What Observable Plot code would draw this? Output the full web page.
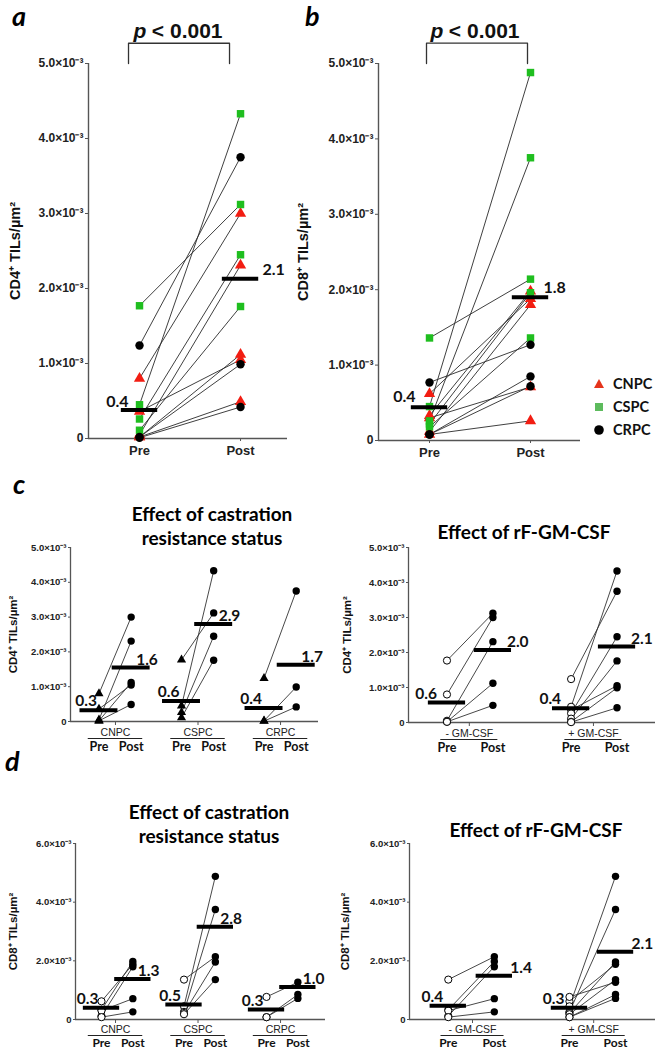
<!DOCTYPE html>
<html><head><meta charset="utf-8">
<script src="https://cdn.jsdelivr.net/npm/d3@7"></script>
<script src="https://cdn.jsdelivr.net/npm/@observablehq/plot@0.6"></script>
<style>
body{margin:0;background:#fff;}
#fig{position:relative;width:660px;height:1050px;overflow:hidden;background:#fff;font-family:"Liberation Sans",Arial,sans-serif;}
.lt{position:absolute;font-family:Lato,sans-serif;font-weight:bold;color:#000;white-space:nowrap;}
.letter{font-style:italic;font-size:27px;line-height:30px;}
.title{font-size:19px;line-height:24px;text-align:center;}
.leg{position:absolute;font-family:Lato,sans-serif;font-weight:bold;font-size:14.5px;color:#111;}
.leg div{height:23px;display:flex;align-items:center;}
.leg svg{margin-right:9px;}
</style></head><body><div id="fig"></div>
<script>
// ---------- data (values ×10⁻³ cells/µm²) ----------
const groups   = ["CNPC","CSPC","CRPC"];
const gmGroups = ["- GM-CSF","+ GM-CSF"];
const gmKeys   = ["-","+"];
const phase    = ["Pre","Post"];

const cd4Type = ["CNPC","CNPC","CNPC","CNPC","CNPC","CSPC","CSPC","CSPC","CSPC","CRPC","CRPC","CRPC"];
const cd4Pre  = [0.80,0.36,0.05,0.02,0.02,1.77,0.45,0.26,0.11,1.24,0.02,0.01];
const cd4Post = [3.00,1.05,2.31,1.12,0.49,3.12,4.33,2.45,1.76,3.75,0.99,0.42];
const cd4GM   = ["-","+","-","-","-","-","+","+","+","+","+","+"];

const cd8Type = ["CNPC","CNPC","CNPC","CNPC","CNPC","CSPC","CSPC","CSPC","CSPC","CSPC","CRPC","CRPC","CRPC"];
const cd8Pre  = [0.62,0.33,0.12,0.30,0.08,1.36,0.45,0.26,0.22,0.18,0.77,0.08,0.08];
const cd8Post = [1.88,1.98,1.80,0.71,0.26,2.14,4.88,3.75,1.96,1.36,1.27,0.85,0.72];
const cd8GM   = ["+","-","-","-","-","-","+","+","+","+","+","+","+"];

// mean bars as drawn, and their printed labels
const meanA = [0.38, 2.13],  meanLabelA = ["0.4","2.1"];
const meanB = [0.44, 1.90],  meanLabelB = ["0.4","1.8"];
const meanCD4Type = [[0.32,1.55],[0.59,2.80],[0.39,1.63]];
const meanCD4TypeLabel = [["0.3","1.6"],["0.6","2.9"],["0.4","1.7"]];
const meanCD4GM = [[0.57,2.07],[0.41,2.17]];
const meanCD4GMLabel = [["0.6","2.0"],["0.4","2.1"]];
const meanCD8Type = [[0.40,1.38],[0.51,3.16],[0.34,1.11]];
const meanCD8TypeLabel = [["0.3","1.3"],["0.5","2.8"],["0.3","1.0"]];
const meanCD8GM = [[0.47,1.49],[0.40,2.31]];
const meanCD8GMLabel = [["0.4","1.4"],["0.3","2.1"]];

const yTicks5 = [0,1,2,3,4,5];
const yTicks6 = [0,2,4,6];
const pText = ["p", "< 0.001"];

// ---------- helpers ----------
const fig = document.getElementById("fig");
function place(el, left, top){ el.style.position="absolute"; el.style.left=left+"px"; el.style.top=top+"px"; fig.appendChild(el); return el; }
const fmtSci = d => d === 0 ? "0" : d.toFixed(1) + "×10⁻³";
const SANS = "'Liberation Sans', Arial, sans-serif";
const LATO = "Lato, sans-serif";
const AX = "#555";

function pairPanel(o){
  const rows = o.type.map((t,i)=>({t, xa:0, xb:1, pre:o.pre[i], post:o.post[i]}));
  const pts = rows.flatMap(r=>[{x:0,y:r.pre,t:r.t},{x:1,y:r.post,t:r.t}]);
  const meanRows = o.means.map((v,i)=>({x:i, v, label:o.meanLabels[i]}));
  const br = [{x:0,y:5.0},{x:0,y:5.27},{x:1,y:5.27},{x:1,y:5.0}];
  return Plot.plot({
    width:o.width, height:o.height, marginLeft:o.mL, marginRight:o.mR, marginTop:o.mT, marginBottom:o.mB,
    x:{domain:o.xDomain, axis:null}, y:{domain:[0,5], axis:null},
    symbol:{domain:groups, range:["triangle","square","circle"]},
    color:{domain:groups, range:["#f21d12","#1fbe1f","#000000"]},
    style:{fontFamily:SANS, color:"#222", background:"transparent", overflow:"visible"},
    marks:[
      Plot.ruleX([o.xDomain[0]], {y1:0, y2:5, stroke:AX, strokeWidth:1.4}),
      Plot.ruleY([0], {x1:o.xDomain[0], x2:o.xDomain[1], stroke:AX, strokeWidth:1.4}),
      Plot.axisY({ticks:yTicks5, tickFormat:fmtSci, tickSize:3, tickPadding:2, fontSize:12, fontWeight:"bold", stroke:AX, label:null}),
      Plot.axisX({ticks:[0,1], tickFormat:i=>phase[i], tickSize:3, tickPadding:4, fontSize:13, fontWeight:"bold", stroke:AX, label:null}),
      Plot.text([o.yLabel], {frameAnchor:"left", rotate:-90, textAnchor:"middle", lineAnchor:"middle", dx:o.yLabelDx, fontSize:14.5, fontWeight:"bold", fill:"#111"}),
      Plot.line(br, {x:"x", y:"y", stroke:"#333", strokeWidth:1.3, dx:o.brDx}),
      Plot.text([pText[0]], {x:()=>0.5, y:()=>5.34, dx:o.pDx, textAnchor:"start", lineAnchor:"bottom", fontSize:21, fontWeight:"bold", fontStyle:"italic", fill:"#111"}),
      Plot.text([pText[1]], {x:()=>0.5, y:()=>5.34, dx:o.pEndDx, textAnchor:"end", lineAnchor:"bottom", fontSize:21, fontWeight:"bold", fill:"#111"}),
      Plot.link(rows, {x1:"xa", y1:"pre", x2:"xb", y2:"post", stroke:"#2a2a2a", strokeWidth:0.9}),
      Plot.dot(pts, {x:"x", y:"y", symbol:"t", fill:"t", r:4.2}),
      Plot.ruleY(meanRows, {y:"v", x1:d=>d.x-0.18, x2:d=>d.x+0.18, stroke:"#000", strokeWidth:4}),
      Plot.text(meanRows.slice(0,1), {x:"x", y:"v", text:"label", textAnchor:"end", lineAnchor:"bottom", dx:o.preLblDx, dy:o.preLblDy, fontFamily:LATO, fontWeight:"bold", fontSize:16, fill:"#111"}),
      Plot.text(meanRows.slice(1), {x:"x", y:"v", text:"label", textAnchor:"start", lineAnchor:"bottom", dx:o.postLblDx, dy:o.postLblDy, fontFamily:LATO, fontWeight:"bold", fontSize:16, fill:"#111"})
    ]
  });
}

function groupPanel(o){
  const rows = o.gi.map((g,i)=>({g, xa:g+o.preOff, xb:g+o.postOff, pre:o.pre[i], post:o.post[i]}));
  const prePts = rows.map(r=>({x:r.xa, y:r.pre}));
  const postPts = rows.map(r=>({x:r.xb, y:r.post}));
  const meanPre = o.means.map((m,g)=>({x:g+o.preOff, v:m[0], label:o.labels[g][0]}));
  const meanPost = o.means.map((m,g)=>({x:g+o.postOff, v:m[1], label:o.labels[g][1]}));
  const nameRows = o.names.map((n,g)=>({g, n}));
  const ppRows = o.names.flatMap((n,g)=>[{x:g+o.preOff, t:phase[0]},{x:g+o.postOff, t:phase[1]}]);
  const preDot = o.preMark === "triangle"
    ? Plot.dot(prePts, {x:"x", y:"y", symbol:"triangle", fill:"#000", r:3.4})
    : Plot.dot(prePts, {x:"x", y:"y", symbol:"circle", fill:"#fff", stroke:"#000", strokeWidth:1, r:3.6});
  const labelStyle = {fontFamily:LATO, fontWeight:"bold", fontSize:15.5, fill:"#111", lineAnchor:"bottom"};
  return Plot.plot({
    width:o.width, height:o.height, marginLeft:o.mL, marginRight:o.mR, marginTop:o.mT, marginBottom:o.mB,
    x:{domain:o.xDomain, axis:null}, y:{domain:[0,o.yMax], axis:null},
    style:{fontFamily:SANS, color:"#222", background:"transparent", overflow:"visible"},
    marks:[
      Plot.ruleX([o.xDomain[0]], {y1:0, y2:o.yMax, stroke:AX, strokeWidth:1.3}),
      Plot.ruleY([0], {x1:o.xDomain[0], x2:o.xDomain[1], stroke:AX, strokeWidth:1.3}),
      Plot.axisY({ticks:o.yTicks, tickFormat:fmtSci, tickSize:2, tickPadding:2, fontSize:9.5, fontWeight:"bold", stroke:AX, label:null}),
      Plot.axisX({ticks:o.names.map((n,g)=>g), tickFormat:()=>"", tickSize:4, stroke:AX, label:null}),
      Plot.text([o.yLabel], {frameAnchor:"left", rotate:-90, textAnchor:"middle", lineAnchor:"middle", dx:o.yLabelDx, fontSize:11.5, fontWeight:"bold", fill:"#111"}),
      Plot.text(nameRows, {x:"g", y:()=>0, text:"n", dy:o.nameDy, lineAnchor:"bottom", fontSize:10.5, fill:"#222"}),
      Plot.ruleY(nameRows, {y:()=>0, x1:d=>d.g-o.ulHalf, x2:d=>d.g+o.ulHalf, dy:o.ulDy, stroke:"#222", strokeWidth:1.2}),
      Plot.text(ppRows, {x:"x", y:()=>0, text:"t", dy:o.ppDy, lineAnchor:"bottom", fontFamily:LATO, fontWeight:"bold", fontSize:o.ppSize, fill:"#111"}),
      Plot.link(rows, {x1:"xa", y1:"pre", x2:"xb", y2:"post", stroke:"#333", strokeWidth:0.9}),
      preDot,
      Plot.dot(postPts, {x:"x", y:"y", fill:"#000", r:3.7}),
      Plot.ruleY(meanPre.concat(meanPost), {y:"v", x1:d=>d.x-o.barHalf, x2:d=>d.x+o.barHalf, stroke:"#000", strokeWidth:4}),
      Plot.text(meanPre, {x:"x", y:"v", text:"label", textAnchor:"end", dx:o.preLblDx, dy:-4, ...labelStyle}),
      Plot.text(meanPost, {x:"x", y:"v", text:"label", textAnchor:"start", dx:o.postLblDx, dy:-3, ...labelStyle})
    ]
  });
}

// ---------- panel a ----------
place(pairPanel({type:cd4Type, pre:cd4Pre, post:cd4Post, means:meanA, meanLabels:meanLabelA,
  yLabel:"CD4⁺ TILs/µm²", width:330, height:480, mL:88, mR:43, mT:63, mB:42, xDomain:[-0.505,1.465],
  yLabelDx:-73, brDx:-11, pDx:-56.5, pEndDx:32.5, preLblDx:-11, preLblDy:-3, postLblDx:22, postLblDy:-4}), 0, 0);

// ---------- panel b ----------
place(pairPanel({type:cd8Type, pre:cd8Pre, post:cd8Post, means:meanB, meanLabels:meanLabelB,
  yLabel:"CD8⁺ TILs/µm²", width:310, height:480, mL:98, mR:10, mT:63, mB:40, xDomain:[-0.505,1.495],
  yLabelDx:-75, brDx:-3, pDx:-49.5, pEndDx:39.5, preLblDx:-14, preLblDy:-5, postLblDx:13, postLblDy:-4}), 280, 0);

// ---------- panel c ----------
place(groupPanel({gi:cd4Type.map(t=>groups.indexOf(t)), pre:cd4Pre, post:cd4Post, names:groups,
  means:meanCD4Type, labels:meanCD4TypeLabel, preMark:"triangle", yMax:5, yTicks:yTicks5, yLabel:"CD4⁺ TILs/µm²",
  width:330, height:220, mL:70, mR:12, mT:7, mB:39, xDomain:[-0.545,2.46], yLabelDx:-57,
  preOff:-0.2, postOff:0.19, barHalf:0.23, ulHalf:0.33, nameDy:14, ulDy:17, ppDy:29, ppSize:12.5, preLblDx:-2, postLblDx:5}), 0, 540);

place(groupPanel({gi:cd4GM.map(k=>gmKeys.indexOf(k)), pre:cd4Pre, post:cd4Post, names:gmGroups,
  means:meanCD4GM, labels:meanCD4GMLabel, preMark:"open", yMax:5, yTicks:yTicks5, yLabel:"CD4⁺ TILs/µm²",
  width:330, height:220, mL:78, mR:5, mT:7, mB:38, xDomain:[-0.49,1.5], yLabelDx:-61,
  preOff:-0.18, postOff:0.19, barHalf:0.15, ulHalf:0.23, nameDy:14, ulDy:17, ppDy:29, ppSize:12.5, preLblDx:-10, postLblDx:14}), 330, 540);

// ---------- panel d ----------
place(groupPanel({gi:cd8Type.map(t=>groups.indexOf(t)), pre:cd8Pre, post:cd8Post, names:groups,
  means:meanCD8Type, labels:meanCD8TypeLabel, preMark:"open", yMax:6, yTicks:yTicks6, yLabel:"CD8⁺ TILs/µm²",
  width:330, height:215, mL:75, mR:5, mT:8, mB:31, xDomain:[-0.485,2.545], yLabelDx:-62,
  preOff:-0.17, postOff:0.21, barHalf:0.22, ulHalf:0.33, nameDy:13, ulDy:16, ppDy:27, ppSize:12, preLblDx:-3, postLblDx:5}), 0, 835);

place(groupPanel({gi:cd8GM.map(k=>gmKeys.indexOf(k)), pre:cd8Pre, post:cd8Post, names:gmGroups,
  means:meanCD8GM, labels:meanCD8GMLabel, preMark:"open", yMax:6, yTicks:yTicks6, yLabel:"CD8⁺ TILs/µm²",
  width:330, height:215, mL:79, mR:5, mT:8, mB:31, xDomain:[-0.52,1.51], yLabelDx:-64,
  preOff:-0.2, postOff:0.18, barHalf:0.15, ulHalf:0.26, nameDy:13, ulDy:16, ppDy:27, ppSize:12, preLblDx:-5, postLblDx:16}), 330, 835);

// ---------- letters & titles ----------
function txt(cls, html, left, top, width){ const d=document.createElement("div"); d.className="lt "+cls; d.innerHTML=html; if(width){d.style.width=width+"px";} return place(d,left,top); }
txt("letter","a",12,1); txt("letter","b",305,1); txt("letter","c",13,469); txt("letter","d",5,746);
txt("title","Effect of castration<br>resistance status",112,502,200);
txt("title","Effect of rF-GM-CSF",424,520,200);
txt("title","Effect of castration<br>resistance status",109,800,200);
txt("title","Effect of rF-GM-CSF",436,818,200);

// ---------- legend ----------
const legShapes = {
  CNPC:'<polygon points="5,0 10,9 0,9" fill="#e5341c"/>',
  CSPC:'<rect x="1" y="1" width="8" height="8" fill="#5dbb5d"/>',
  CRPC:'<circle cx="5" cy="5" r="4.8" fill="#000"/>'
};
const leg = document.createElement("div"); leg.className="leg";
leg.innerHTML = groups.map(g=>`<div><svg width="10" height="10" viewBox="0 0 10 10">${legShapes[g]}</svg>${g}</div>`).join("");
place(leg, 594, 372);
</script></body></html>
